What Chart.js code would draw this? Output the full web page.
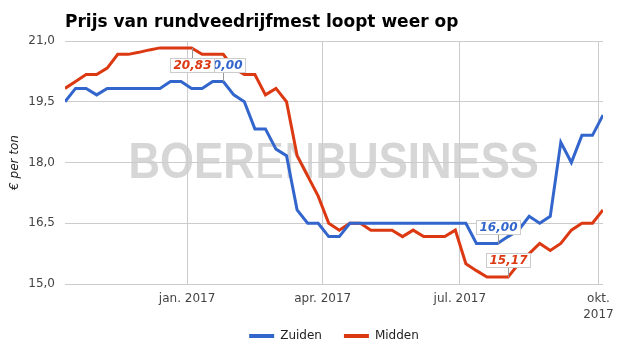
<!DOCTYPE html>
<html><head><meta charset="utf-8">
<script src="https://cdn.jsdelivr.net/npm/chart.js@4.4.1/dist/chart.umd.min.js"></script>
<style>html,body{margin:0;padding:0;background:#fff;}#wrap{width:625px;height:355px;position:relative;}</style>
</head><body><div id="wrap"><canvas id="c" width="625" height="355"></canvas></div>
<script>
const chartTitle = 'Prijs van rundveedrijfmest loopt weer op';
const yAxisTitle = '€ per ton';
const seriesNames = ['Zuiden', 'Midden'];
const seriesColors = ['#3366cc', '#dc3912'];
const weeks = [
  '2016-10-12','2016-10-19','2016-10-26','2016-11-02','2016-11-09','2016-11-16','2016-11-23','2016-11-30',
  '2016-12-07','2016-12-14','2016-12-21','2016-12-28','2017-01-04','2017-01-11','2017-01-18','2017-01-25',
  '2017-02-01','2017-02-08','2017-02-15','2017-02-22','2017-03-01','2017-03-08','2017-03-15','2017-03-22',
  '2017-03-29','2017-04-05','2017-04-12','2017-04-19','2017-04-26','2017-05-03','2017-05-10','2017-05-17',
  '2017-05-24','2017-05-31','2017-06-07','2017-06-14','2017-06-21','2017-06-28','2017-07-05','2017-07-12',
  '2017-07-19','2017-07-26','2017-08-02','2017-08-09','2017-08-16','2017-08-23','2017-08-30','2017-09-06',
  '2017-09-13','2017-09-20','2017-09-27','2017-10-04'
];
const zuiden = [
  19.5, 19.83, 19.83, 19.67, 19.83, 19.83, 19.83, 19.83, 19.83, 19.83, 20.0, 20.0,
  19.83, 19.83, 20.0, 20.0, 19.67, 19.5, 18.83, 18.83, 18.33, 18.17, 16.83, 16.5,
  16.5, 16.17, 16.17, 16.5, 16.5, 16.5, 16.5, 16.5, 16.5, 16.5, 16.5, 16.5,
  16.5, 16.5, 16.5, 16.0, 16.0, 16.0, 16.17, 16.33, 16.67, 16.5, 16.67, 18.5,
  18.0, 18.67, 18.67, 19.17
];
const midden = [
  19.83, 20.0, 20.17, 20.17, 20.33, 20.67, 20.67, 20.72, 20.78, 20.83, 20.83, 20.83,
  20.83, 20.67, 20.67, 20.67, 20.33, 20.17, 20.17, 19.67, 19.83, 19.5, 18.17, 17.67,
  17.17, 16.5, 16.33, 16.5, 16.5, 16.33, 16.33, 16.33, 16.17, 16.33, 16.17, 16.17,
  16.17, 16.33, 15.5, 15.33, 15.17, 15.17, 15.17, 15.5, 15.75, 16.0, 15.83, 16.0,
  16.33, 16.5, 16.5, 16.83
];
const xTickDates = ['2017-01-01', '2017-04-01', '2017-07-01', '2017-10-01'];
const xTickLabels = ['jan. 2017', 'apr. 2017', 'jul. 2017', 'okt. 2017'];
const yTicks = [15, 16.5, 18, 19.5, 21];
const zuidenLabelIdx = [15, 41];
const middenLabelIdx = [12, 42];
const watermarkParts = ['BOER', 'EN', 'BUSINESS'];

const FAMILY = "'DejaVu Sans', sans-serif";
Chart.defaults.font.family = FAMILY;
const fmt = (v, d) => v.toFixed(d).replace('.', ',');

const watermarkPlugin = {
  id: 'watermark',
  beforeDraw(chart) {
    const {ctx, chartArea: a} = chart;
    const w = a.right - a.left, h = a.bottom - a.top;
    const fonts = ["bold 50px 'Liberation Sans', Arial, sans-serif", "normal 50px 'Liberation Sans', Arial, sans-serif", "bold 50px 'Liberation Sans', Arial, sans-serif"];
    ctx.save();
    const widths = watermarkParts.map((t, i) => { ctx.font = fonts[i]; return ctx.measureText(t).width; });
    const total = widths.reduce((s, v) => s + v, 0);
    const targetW = w * 0.763;
    ctx.translate(a.left + w * 0.118, a.top + h * 0.5655);
    ctx.scale(targetW / total, 1);
    ctx.fillStyle = '#d6d6d6';
    ctx.textBaseline = 'alphabetic';
    let x = 0;
    watermarkParts.forEach((t, i) => { ctx.font = fonts[i]; ctx.fillText(t, x, 0); x += widths[i]; });
    ctx.restore();
  }
};

const titlePlugin = {
  id: 'titleText',
  afterDraw(chart) {
    const ctx = chart.ctx;
    ctx.save();
    ctx.font = 'bold 17px ' + FAMILY;
    ctx.fillStyle = '#000';
    ctx.textAlign = 'left';
    ctx.textBaseline = 'alphabetic';
    ctx.fillText(chartTitle, chart.chartArea.left, 27);
    ctx.restore();
  }
};

const labelPlugin = {
  id: 'pointLabels',
  afterDatasetsDraw(chart) {
    const ctx = chart.ctx, a = chart.chartArea;
    const items = [];
    [[0, zuidenLabelIdx], [1, middenLabelIdx]].forEach(([ds, idxs]) => idxs.forEach(i => items.push({ds, i})));
    ctx.save();
    items.forEach(({ds, i}) => {
      const pt = chart.getDatasetMeta(ds).data[i];
      const val = chart.data.datasets[ds].data[i].y;
      const text = fmt(val, 2);
      ctx.font = 'italic bold 12px ' + FAMILY;
      const tw = ctx.measureText(text).width;
      const bw = Math.round(tw + 6), bh = 14, gap = 10;
      let top = pt.y - gap - bh, below = false;
      if (top < a.top) { top = pt.y + gap; below = true; }
      top = Math.round(top);
      const left = Math.round(pt.x - bw / 2);
      const lx = Math.round(pt.x) + 0.5;
      ctx.strokeStyle = '#999'; ctx.lineWidth = 1;
      ctx.beginPath();
      if (below) { ctx.moveTo(lx, pt.y); ctx.lineTo(lx, top); }
      else { ctx.moveTo(lx, top + bh); ctx.lineTo(lx, pt.y); }
      ctx.stroke();
      ctx.fillStyle = '#fff';
      ctx.fillRect(left, top, bw, bh);
      ctx.strokeStyle = '#cccccc';
      ctx.strokeRect(left + 0.5, top + 0.5, bw, bh);
      ctx.fillStyle = seriesColors[ds];
      ctx.textAlign = 'center'; ctx.textBaseline = 'middle';
      ctx.fillText(text, left + bw / 2 + 0.5, top + bh / 2 + 1);
    });
    ctx.restore();
  }
};

const legendPlacePlugin = {
  id: 'legendPlace',
  afterLayout(chart) {
    const l = chart.legend;
    if (l) {
      const a = chart.chartArea;
      l.left = a.left; l.right = a.right; l.width = a.right - a.left;
      l.top = a.bottom + 24; l.bottom = chart.height; l.height = l.bottom - l.top;
    }
  }
};

const toPoints = arr => weeks.map((d, i) => ({x: Date.parse(d), y: arr[i]}));

new Chart(document.getElementById('c'), {
  type: 'line',
  data: {
    datasets: [
      {label: seriesNames[0], data: toPoints(zuiden), borderColor: seriesColors[0], backgroundColor: seriesColors[0], borderWidth: 3, pointRadius: 0, tension: 0, fill: false},
      {label: seriesNames[1], data: toPoints(midden), borderColor: seriesColors[1], backgroundColor: seriesColors[1], borderWidth: 3, pointRadius: 0, tension: 0, fill: false}
    ]
  },
  options: {
    responsive: false,
    animation: false,
    devicePixelRatio: 1,
    layout: {padding: {top: 41, right: 22, bottom: 3, left: 0}},
    scales: {
      x: {
        type: 'linear',
        min: Date.parse(weeks[0]),
        max: Date.parse(weeks[weeks.length - 1]),
        afterBuildTicks(s) { s.ticks = xTickDates.map(d => ({value: Date.parse(d)})); },
        afterFit(s) { s.height = 40; },
        grid: {color: '#cccccc', drawTicks: false, lineWidth: 1},
        border: {display: false},
        ticks: {
          padding: 6, maxRotation: 0, autoSkip: false, color: '#444',
          font: {size: 12, lineHeight: 1.4},
          callback(v, i) { const t = xTickLabels[i]; return i === xTickLabels.length - 1 ? t.split(' ') : t; }
        }
      },
      y: {
        min: 15, max: 21,
        afterBuildTicks(s) { s.ticks = yTicks.map(v => ({value: v})); },
        afterFit(s) { s.width = 65; },
        grid: {color: '#cccccc', drawTicks: false, lineWidth: 1},
        border: {display: false},
        ticks: {padding: 10, color: '#444', font: {size: 12}, callback: v => fmt(v, 1)},
        title: {display: true, text: yAxisTitle, color: '#222', font: {size: 12, style: 'italic'}, padding: {top: 8, bottom: 0}}
      }
    },
    plugins: {
      tooltip: {enabled: false},
      title: {display: false},
      legend: {
        position: 'bottom',
        maxHeight: 28,
        labels: {
          boxWidth: 25, boxHeight: 4, padding: 22, color: '#222', font: {size: 12},
          generateLabels(chart) {
            return Chart.defaults.plugins.legend.labels.generateLabels(chart).map(l => Object.assign(l, {lineWidth: 0, fillStyle: l.strokeStyle}));
          }
        }
      }
    }
  },
  plugins: [watermarkPlugin, titlePlugin, labelPlugin, legendPlacePlugin]
});
</script>
</body></html>
